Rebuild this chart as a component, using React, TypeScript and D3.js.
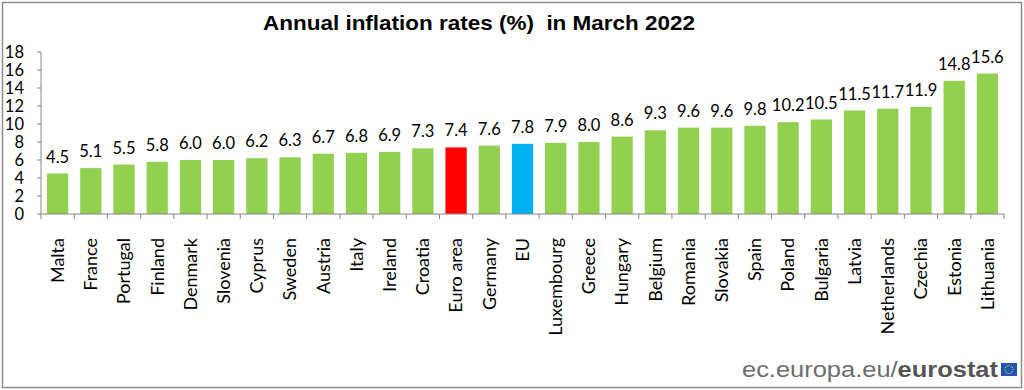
import React from 'react';
import * as d3 from 'd3';

const countries = ['Malta', 'France', 'Portugal', 'Finland', 'Denmark', 'Slovenia', 'Cyprus', 'Sweden', 'Austria', 'Italy', 'Ireland', 'Croatia', 'Euro area', 'Germany', 'EU', 'Luxembourg', 'Greece', 'Hungary', 'Belgium', 'Romania', 'Slovakia', 'Spain', 'Poland', 'Bulgaria', 'Latvia', 'Netherlands', 'Czechia', 'Estonia', 'Lithuania'];
const rates = [4.5, 5.1, 5.5, 5.8, 6.0, 6.0, 6.2, 6.3, 6.7, 6.8, 6.9, 7.3, 7.4, 7.6, 7.8, 7.9, 8.0, 8.6, 9.3, 9.6, 9.6, 9.8, 10.2, 10.5, 11.5, 11.7, 11.9, 14.8, 15.6];
const yTicks = [0, 2, 4, 6, 8, 10, 12, 14, 16, 18];

const W = 1024;
const H = 390;
const font = 'Lato, "Open Sans", sans-serif';
const arial = "Arial, 'Liberation Sans', sans-serif";

const barColor = (c: string) => (c === 'Euro area' ? '#ff0000' : c === 'EU' ? '#00b0f0' : '#92d050');

const App: React.FC = () => {
  const x = d3.scaleBand<string>().domain(countries).range([41, 1004]).paddingInner(0.36).paddingOuter(0.18);
  const y = d3.scaleLinear().domain([0, 18]).range([214, 52]);
  const step = x.step();
  const left = x.range()[0];

  return (
    <svg width={W} height={H} style={{ position: 'absolute', left: 0, top: 0 }}>
      <rect x={2.5} y={2.5} width={1019} height={385} fill="#fff" stroke="#8c8c8c" strokeWidth={1.5} />
      <text x={263} y={30} textLength={432} lengthAdjust="spacingAndGlyphs" fontFamily={arial} fontWeight="bold" fontSize={21} fill="#000" style={{ whiteSpace: 'pre' }}>
        {'Annual inflation rates (%)  in March 2022'}
      </text>

      {countries.map((c, i) => (
        <rect key={c} x={x(c)} y={y(rates[i])} width={x.bandwidth()} height={y(0) - y(rates[i])} fill={barColor(c)} />
      ))}

      <line x1={left} x2={left} y1={y(18)} y2={y(0)} stroke="#868686" />
      <line x1={left} x2={x.range()[1]} y1={y(0)} y2={y(0)} stroke="#868686" />
      {yTicks.map(t => (
        <g key={t}>
          <line x1={left - 4} x2={left} y1={y(t)} y2={y(t)} stroke="#868686" />
          <text x={24} y={y(t)} dy="0.35em" textAnchor="end" fontFamily={font} fontSize={16.5} fill="#000">{t}</text>
        </g>
      ))}
      {d3.range(countries.length + 1).map(i => (
        <line key={i} x1={left + i * step} x2={left + i * step} y1={y(0)} y2={y(0) + 5} stroke="#868686" />
      ))}

      {countries.map((c, i) => (
        <text key={c} x={x(c)! + x.bandwidth() / 2} y={y(rates[i]) - 11} textAnchor="middle" fontFamily={font} fontSize={16.5} fill="#000">
          {rates[i].toFixed(1)}
        </text>
      ))}

      {countries.map(c => (
        <text key={c} transform={`translate(${x(c)! + x.bandwidth() / 2},238) rotate(-90)`} dy="0.35em" textAnchor="end" fontFamily={font} fontSize={18} fill="#000">
          {c}
        </text>
      ))}

      <text x={742} y={377} textLength={256} lengthAdjust="spacingAndGlyphs" fontFamily={arial} fontSize={22} fill="#6d6d6d">
        ec.europa.eu/<tspan fontWeight="bold" fill="#555">eurostat</tspan>
      </text>
      <rect x={1001} y={363} width={16} height={13} fill="#1d56b8" />
      {d3.range(12).map(k => (
        <circle key={k} cx={1009 + 4 * Math.cos((k * Math.PI) / 6)} cy={369.5 + 4 * Math.sin((k * Math.PI) / 6)} r={0.6} fill="#ffdd00" />
      ))}
    </svg>
  );
};

export default App;
